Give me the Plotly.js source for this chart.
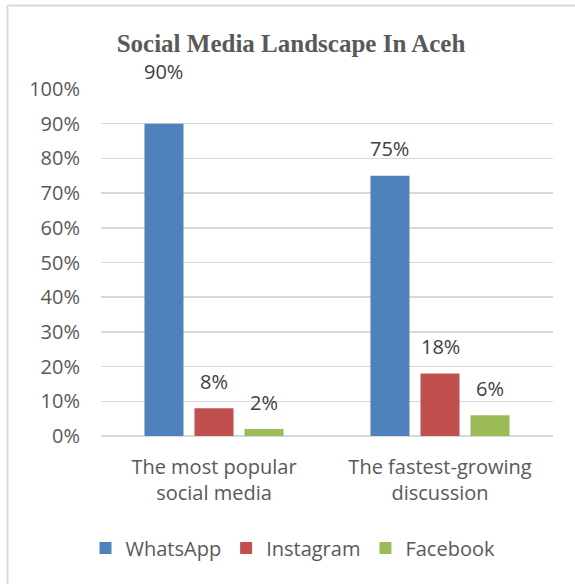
<!DOCTYPE html>
<html>
<head>
<meta charset="utf-8">
<script src="https://cdn.plot.ly/plotly-3.0.1.min.js"></script>
<style>
html,body{margin:0;padding:0;background:#ffffff;}
#chart{width:575px;height:584px;}
</style>
</head>
<body>
<div id="chart"></div>
<script>
// ---- data ----
const categories = ["The most popular<br>social media", "The fastest-growing<br>discussion"];
const seriesNames = ["WhatsApp", "Instagram", "Facebook"];
const whatsappValues = [0.90, 0.75];
const instagramValues = [0.08, 0.18];
const facebookValues = [0.02, 0.06];
const yTickValues = [0, 0.1, 0.2, 0.3, 0.4, 0.5, 0.6, 0.7, 0.8, 0.9, 1.0];
const yTickLabels = ["0%", "10%", "20%", "30%", "40%", "50%", "60%", "70%", "80%", "90%", "100%"];
const chartTitle = "Social Media Landscape In Aceh";

// ---- styles ----
const seriesColors = ["#4f81bd", "#c0504d", "#9bbb59"];
const textFont = "Open Sans, Noto Sans, sans-serif";
const bargap = 0.336;
const labelLiftDefault = 27;
const labelLiftOverrides = { "0-0": 52 }; // series-category pairs whose label sits higher

const seriesValues = [whatsappValues, instagramValues, facebookValues];

const traces = seriesValues.map((vals, i) => ({
  type: "bar",
  name: seriesNames[i],
  x: categories,
  y: vals,
  marker: { color: seriesColors[i] },
  hoverinfo: "skip"
}));

// data labels positioned through the axis scales
const slot = (1 - bargap) / seriesValues.length;
const annotations = [];
seriesValues.forEach((vals, i) => {
  vals.forEach((v, j) => {
    const key = i + "-" + j;
    annotations.push({
      xref: "x", yref: "y",
      x: j + (i - (seriesValues.length - 1) / 2) * slot,
      y: v,
      text: Math.round(v * 100) + "%",
      showarrow: false,
      yshift: labelLiftOverrides[key] !== undefined ? labelLiftOverrides[key] : labelLiftDefault,
      font: { family: textFont, size: 20, color: "#404040" }
    });
  });
});

const layout = {
  width: 575,
  height: 584,
  margin: { l: 101, r: 22, t: 89, b: 148, pad: 0 },
  paper_bgcolor: "#ffffff",
  plot_bgcolor: "#ffffff",
  title: {
    text: "<b>" + chartTitle + "</b>",
    xref: "container", yref: "container",
    x: 291 / 575, xanchor: "center",
    y: 1 - 43 / 584, yanchor: "middle",
    font: { family: "Liberation Serif, DejaVu Serif, serif", size: 25, color: "#595959" }
  },
  barmode: "group",
  bargap: bargap,
  bargroupgap: 0.22,
  showlegend: true,
  legend: {
    orientation: "h",
    xref: "paper", yref: "paper",
    x: (293 - 101) / 452, xanchor: "center",
    y: (436 - 548) / 347, yanchor: "middle",
    font: { family: textFont, size: 20, color: "#595959" },
    itemwidth: 30,
    bgcolor: "rgba(0,0,0,0)"
  },
  xaxis: {
    type: "category",
    showgrid: false,
    showline: false,
    zeroline: false,
    ticks: "",
    ticklabelstandoff: 17,
    tickfont: { family: textFont, size: 20, color: "#595959" },
    fixedrange: true
  },
  yaxis: {
    range: [0, 1],
    tickvals: yTickValues,
    ticktext: yTickLabels,
    showgrid: true,
    gridcolor: "#d9d9d9",
    gridwidth: 1.5,
    zeroline: true,
    zerolinecolor: "#d9d9d9",
    zerolinewidth: 1.5,
    showline: false,
    ticks: "",
    ticklabelstandoff: 20,
    tickfont: { family: textFont, size: 20, color: "#595959" },
    fixedrange: true
  },
  annotations: annotations,
  shapes: [
    { type: "line", xref: "paper", yref: "paper",
      x0: (7.5 - 101) / 452, x1: (580 - 101) / 452,
      y0: (436 - 5.5) / 347, y1: (436 - 5.5) / 347,
      line: { color: "#d9d9d9", width: 2 } },
    { type: "line", xref: "paper", yref: "paper",
      x0: (7.5 - 101) / 452, x1: (7.5 - 101) / 452,
      y0: (436 - 590) / 347, y1: (436 - 5.5) / 347,
      line: { color: "#d9d9d9", width: 2 } }
  ]
};

Plotly.newPlot("chart", traces, layout, { displayModeBar: false, staticPlot: true });
</script>
</body>
</html>
